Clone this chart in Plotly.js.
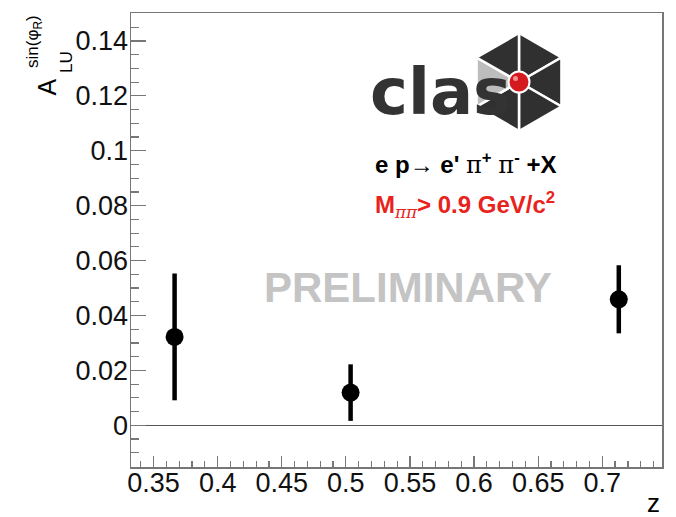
<!DOCTYPE html>
<html><head><meta charset="utf-8">
<script src="https://cdn.plot.ly/plotly-3.0.1.min.js"></script>
<style>html,body{margin:0;padding:0;background:#fff}#chart{width:676px;height:517px}</style>
</head><body><div id="chart"></div>
<script>
// Beam-spin asymmetry A_LU^{sin(phi_R)} versus z
const zValues = [0.3664, 0.5037, 0.7129];
const asymValues = [0.0322, 0.0119, 0.0459];
const asymErrors = [0.0231, 0.0103, 0.0124];

const xTickVals = [0.35, 0.4, 0.45, 0.5, 0.55, 0.6, 0.65, 0.7];
const xTickText = ['0.35', '0.4', '0.45', '0.5', '0.55', '0.6', '0.65', '0.7'];
const yTickVals = [0, 0.02, 0.04, 0.06, 0.08, 0.1, 0.12, 0.14];
const yTickText = ['0', '0.02', '0.04', '0.06', '0.08', '0.1', '0.12', '0.14'];

// frame geometry (pixels) and pixel -> paper helpers for the decorations
const M = {l: 131, r: 14, t: 13, b: 50};
const W = 676 - M.l - M.r, H = 517 - M.t - M.b;
const fx = x => (x - M.l) / W;
const fy = y => (M.t + H - y) / H;
const FONT = 'Liberation Sans, Arial, Helvetica, sans-serif';
const AXIS_COL = '#777';

// CLAS logo: hexagon split into six triangles, red ball at the centre
const hex = {cx: 519, cy: 82, r: 49};
const hexPts = [];
for (let i = 0; i < 6; i++) {
  const a = i * Math.PI / 3;
  hexPts.push([hex.cx + hex.r * Math.sin(a), hex.cy - hex.r * Math.cos(a)]);
}
const shapes = [];
for (let i = 0; i < 6; i++) {
  const p = hexPts[i], q = hexPts[(i + 1) % 6];
  const path = 'M' + fx(hex.cx) + ',' + fy(hex.cy) +
    ' L' + fx(p[0]) + ',' + fy(p[1]) +
    ' L' + fx(q[0]) + ',' + fy(q[1]) + ' Z';
  shapes.push({
    type: 'path', xref: 'paper', yref: 'paper', path: path,
    fillcolor: i === 4 ? '#bdbdbd' : '#303030',
    line: {color: '#ffffff', width: 2.5}, layer: 'above'
  });
}
const ballR = 10.5;
shapes.push({
  type: 'circle', xref: 'paper', yref: 'paper',
  x0: fx(hex.cx - ballR), x1: fx(hex.cx + ballR),
  y0: fy(hex.cy + ballR), y1: fy(hex.cy - ballR),
  fillcolor: '#d41a1f', line: {color: '#ffffff', width: 2}, layer: 'above'
});
shapes.push({
  type: 'circle', xref: 'paper', yref: 'paper',
  x0: fx(hex.cx - 6), x1: fx(hex.cx - 1),
  y0: fy(hex.cy - 1), y1: fy(hex.cy - 6),
  fillcolor: 'rgba(255,170,170,0.8)', line: {width: 0}, layer: 'above'
});

const ann = (text, x, y, opts) => Object.assign({
  text: text, xref: 'paper', yref: 'paper', x: fx(x), y: fy(y),
  showarrow: false, xanchor: 'center', yanchor: 'middle',
  font: {family: FONT, size: 20, color: '#000'}
}, opts || {});

const PI = '<span style="font-family:DejaVu Serif;font-weight:normal">\u03c0</span>';
const annotations = [
  ann('clas', 440, 92, {font: {family: 'DejaVu Sans', size: 64, color: '#333', weight: 'bold'}}),
  ann('e p\u2192 e\' ' + PI + '<sup>+</sup> ' + PI + '<sup>-</sup> +X',
      373, 163, {xanchor: 'left', font: {family: FONT, size: 24, color: '#000', weight: 'bold'}}),
  ann('M<sub><span style="font-family:DejaVu Serif;font-weight:normal;font-style:italic">\u03c0\u03c0</span></sub>> 0.9 GeV/c<sup>2</sup>',
      373, 205, {xanchor: 'left', font: {family: FONT, size: 24, color: '#e8231c', weight: 'bold'}}),
  ann('PRELIMINARY', 408, 288, {font: {family: FONT, size: 42, color: '#c4c4c4', weight: 'bold'}}),
  ann('z', 662, 503, {xanchor: 'right', font: {family: FONT, size: 26, color: '#000'}}),
  // y-axis title, built from pieces so the sub- and superscript stack
  ann('A', 46.5, 87, {textangle: -90, font: {family: FONT, size: 25, color: '#000'}}),
  ann('LU', 67, 62, {textangle: -90, font: {family: FONT, size: 17, color: '#000'}}),
  ann('sin(\u03c6<sub>R</sub>)', 34, 42, {textangle: -90, font: {family: FONT, size: 17, color: '#000'}})
];

const trace = {
  type: 'scatter', mode: 'markers',
  x: zValues, y: asymValues,
  marker: {color: '#000', size: 18},
  error_y: {type: 'data', array: asymErrors, visible: true, color: '#000', thickness: 4.5, width: 0},
  cliponaxis: false, hoverinfo: 'x+y'
};

const layout = {
  width: 676, height: 517,
  margin: M,
  paper_bgcolor: '#fff', plot_bgcolor: '#fff',
  showlegend: false,
  font: {family: FONT, size: 27, color: '#111'},
  xaxis: {
    range: [0.3324, 0.7466], tickmode: 'array', tickvals: xTickVals, ticktext: xTickText,
    ticks: 'inside', ticklen: 11, tickwidth: 1.2, tickcolor: AXIS_COL,
    showline: true, linecolor: AXIS_COL, linewidth: 1.5, mirror: true,
    showgrid: false, zeroline: false, ticklabelstandoff: -9,
    tickfont: {family: FONT, size: 27, color: '#111'},
    minor: {dtick: 0.01, tick0: 0.35, ticks: 'inside', ticklen: 6, tickwidth: 1.2, tickcolor: AXIS_COL, showgrid: false}
  },
  yaxis: {
    range: [-0.0152, 0.1502], tickmode: 'array', tickvals: yTickVals, ticktext: yTickText,
    ticks: 'inside', ticklen: 15, tickwidth: 1.2, tickcolor: AXIS_COL,
    showline: true, linecolor: AXIS_COL, linewidth: 1.5, mirror: true,
    showgrid: false, zeroline: true, zerolinecolor: '#555', zerolinewidth: 1.2,
    ticklabelstandoff: -4,
    tickfont: {family: FONT, size: 27, color: '#111'},
    minor: {dtick: 0.005, tick0: 0, ticks: 'inside', ticklen: 8, tickwidth: 1.2, tickcolor: AXIS_COL, showgrid: false}
  },
  shapes: shapes,
  annotations: annotations
};

Plotly.newPlot('chart', [trace], layout, {displayModeBar: false, staticPlot: true});
</script>
</body></html>
